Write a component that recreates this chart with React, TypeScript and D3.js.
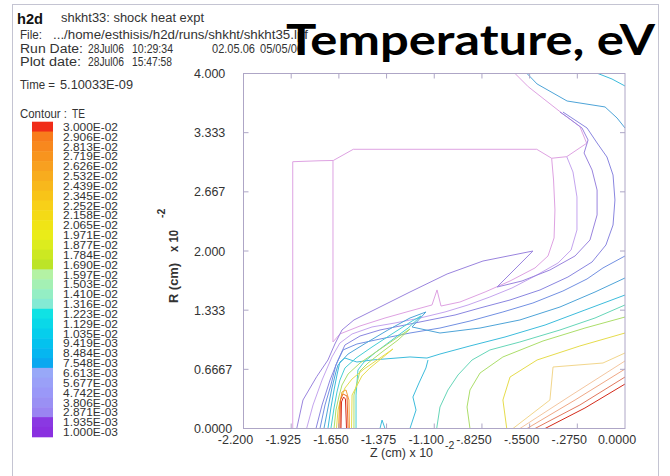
import React from 'react';
import * as d3 from 'd3';

type Pt = [number, number];

// contour levels (TE), lowest first, as printed on the colour key
const levelLabels = [
  '1.000E-03', '1.935E-03', '2.871E-03', '3.806E-03', '4.742E-03', '5.677E-03', '6.613E-03', '7.548E-03',
  '8.484E-03', '9.419E-03', '1.035E-02', '1.129E-02', '1.223E-02', '1.316E-02', '1.410E-02', '1.503E-02',
  '1.597E-02', '1.690E-02', '1.784E-02', '1.877E-02', '1.971E-02', '2.065E-02', '2.158E-02', '2.252E-02',
  '2.345E-02', '2.439E-02', '2.532E-02', '2.626E-02', '2.719E-02', '2.813E-02', '2.906E-02', '3.000E-02',
];

const xTicks = [-2.2, -1.925, -1.65, -1.375, -1.1, -0.825, -0.55, -0.275, 0];
const xTickLabels = ['-2.200', '-1.925', '-1.650', '-1.375', '-1.100', '-.8250', '-.5500', '-.2750', '0.0000'];
const yTicks = [0, 0.6667, 1.3333, 2, 2.6667, 3.3333, 4];
const yTickLabels = ['0.0000', '0.6667', '1.333', '2.000', '2.667', '3.333', '4.000'];

// contour lines, [Z, R] in units of 10^-2 cm
const pinkOuter: Pt[] = [[-1.916, 0], [-1.916, 3.006], [-1.759, 3.017], [-1.682, 3.02], [-1.567, 3.146], [-0.509, 3.146], [-0.423, 3.045], [-0.336, 3.063], [-0.221, 3.214], [-0.26, 3.401], [-0.375, 3.57], [-0.558, 3.851], [-0.634, 4.0]];
const pinkInner: Pt[] = [[-1.684, 3.02], [-1.684, 0.975], [-1.644, 1.065], [-1.528, 1.155], [-1.384, 1.245], [-1.24, 1.324], [-1.113, 1.392], [-1.084, 1.561], [-1.061, 1.38], [-0.952, 1.425], [-0.807, 1.538], [-0.663, 1.662], [-0.519, 1.809], [-0.444, 1.944], [-0.409, 2.147], [-0.404, 2.462], [-0.412, 2.8], [-0.423, 3.045]];
const lavender: Pt[] = [[-0.336, 3.063], [-0.3, 2.89], [-0.277, 2.609], [-0.277, 2.237], [-0.311, 2.011], [-0.386, 1.865], [-0.519, 1.718], [-0.652, 1.583], [-0.779, 1.482], [-0.905, 1.392], [-1.038, 1.313], [-1.182, 1.245], [-1.326, 1.189], [-1.459, 1.144], [-1.574, 1.065], [-1.644, 0.963], [-1.69, 0.806], [-1.747, 0.546], [-1.799, 0.265], [-1.836, 0]];
const purpleTongue: Pt[] = [[-1.893, 0], [-1.857, 0.321], [-1.778, 0.584], [-1.713, 0.772], [-1.673, 0.952], [-1.632, 1.11], [-1.563, 1.223], [-1.413, 1.369], [-1.24, 1.538], [-1.026, 1.741], [-0.819, 1.887], [-0.531, 2.0], [-0.738, 1.594], [-0.594, 1.662], [-0.433, 1.786], [-0.288, 1.944], [-0.202, 2.124], [-0.161, 2.406], [-0.161, 2.687], [-0.19, 2.913], [-0.236, 3.104], [-0.213, 3.251], [-0.248, 3.386], [-0.334, 3.51], [-0.375, 3.566]];
const violetArc: Pt[] = [[-0.358, 3.566], [-0.219, 3.386], [-0.161, 3.217], [-0.104, 3.059], [-0.069, 2.856], [-0.058, 2.575], [-0.069, 2.293], [-0.11, 2.068], [-0.19, 1.876], [-0.329, 1.707], [-0.49, 1.561], [-0.663, 1.448], [-0.836, 1.358], [-0.98, 1.279], [-1.125, 1.223], [-1.269, 1.166], [-1.413, 1.11], [-1.528, 1.042], [-1.615, 0.941], [-1.655, 0.772], [-1.701, 0.546], [-1.747, 0.265], [-1.782, 0]];
const blueA: Pt[] = [[-1.759, 0], [-1.73, 0.265], [-1.696, 0.49], [-1.667, 0.716], [-1.626, 0.885], [-1.546, 0.952], [-1.413, 1.008], [-1.24, 1.076], [-1.067, 1.132], [-0.894, 1.211], [-0.704, 1.313], [-0.531, 1.414], [-0.358, 1.549], [-0.219, 1.685], [-0.127, 1.809], [0, 1.944]];
const blueB: Pt[] = [[-1.736, 0], [-1.713, 0.231], [-1.69, 0.456], [-1.667, 0.637], [-1.655, 0.716], [-1.597, 0.839], [-1.494, 0.963], [-1.367, 1.11], [-1.24, 1.245], [-1.148, 1.313], [-1.228, 1.144], [-1.067, 1.076], [-0.836, 1.132], [-0.606, 1.223], [-0.375, 1.369], [-0.173, 1.538], [0, 1.696]];
const cyanA: Pt[] = [[-1.713, 0], [-1.696, 0.231], [-1.678, 0.434], [-1.661, 0.603], [-1.644, 0.749], [-1.615, 0.794], [-1.546, 0.749], [-1.459, 0.772], [-1.24, 0.806], [-1.142, 0.794], [-1.067, 0.839], [-0.894, 0.93], [-0.692, 1.031], [-0.461, 1.166], [-0.231, 1.335], [0, 1.504]];
const cyanB: Pt[] = [[-1.24, 0], [-1.205, 0.208], [-1.223, 0.355], [-1.188, 0.513], [-1.148, 0.682], [-1.136, 0.772]];
const cyanBump: Pt[] = [[-1.413, 0], [-1.401, 0.095], [-1.384, 0]];
const tealTop: Pt[] = [[-0.565, 4.0], [-0.507, 3.882], [-0.334, 3.69], [-0.115, 3.623], [-0.046, 3.499], [0, 3.386]];
const tealCorner: Pt[] = [[-0.156, 4.0], [-0.075, 3.938], [0, 3.859]];
const bandCyan: Pt[] = [[-1.696, 0], [-1.678, 0.231], [-1.661, 0.411], [-1.644, 0.546], [-1.615, 0.682], [-1.551, 0.794], [-1.459, 0.918], [-1.344, 1.065], [-1.228, 1.211], [-1.176, 1.268], [-1.251, 1.132], [-1.344, 0.997], [-1.436, 0.862], [-1.505, 0.749], [-1.54, 0.659], [-1.551, 0.377], [-1.551, 0]];
const greenA: Pt[] = [[-1.086, 0], [-1.067, 0.242], [-1.021, 0.434], [-0.963, 0.603], [-0.882, 0.772], [-0.779, 0.885], [-0.606, 0.975], [-0.375, 1.11], [-0.173, 1.245], [0, 1.392]];
const bandGreen: Pt[] = [[-1.678, 0], [-1.667, 0.208], [-1.649, 0.366], [-1.632, 0.49], [-1.597, 0.614], [-1.528, 0.738], [-1.436, 0.862], [-1.326, 1.008], [-1.24, 1.121], [-1.309, 0.997], [-1.401, 0.862], [-1.482, 0.738], [-1.528, 0.648], [-1.563, 0.377], [-1.563, 0]];
const limeA: Pt[] = [[-0.894, 0], [-0.911, 0.242], [-0.894, 0.434], [-0.836, 0.625], [-0.704, 0.806], [-0.473, 0.986], [-0.231, 1.132], [0, 1.256]];
const bandYellow: Pt[] = [[-1.664, 0], [-1.655, 0.208], [-1.638, 0.344], [-1.615, 0.456], [-1.574, 0.558], [-1.505, 0.67], [-1.413, 0.794], [-1.338, 0.896], [-1.401, 0.794], [-1.471, 0.682], [-1.517, 0.592], [-1.574, 0.377], [-1.577, 0]];
const yellowA: Pt[] = [[-0.682, 0], [-0.704, 0.321], [-0.663, 0.58], [-0.507, 0.772], [-0.26, 0.93], [0, 1.076]];
const paleOrange: Pt[] = [[-0.646, 0], [-0.433, 0.321], [-0.415, 0.693], [-0.127, 0.738], [0, 0.851]];
const peach: Pt[] = [[-0.606, 0], [-0.317, 0.366], [0, 0.761]];
const spikeOrange: Pt[] = [[-1.652, 0], [-1.646, 0.265], [-1.632, 0.411], [-1.609, 0.434], [-1.592, 0.321], [-1.589, 0]];
const salmon: Pt[] = [[-0.565, 0], [-0.288, 0.321], [0, 0.67]];
const spikeDeep: Pt[] = [[-1.644, 0], [-1.641, 0.321], [-1.626, 0.389], [-1.603, 0.366], [-1.597, 0]];
const orangeRed: Pt[] = [[-0.519, 0], [-0.26, 0.265], [0, 0.58]];
const red: Pt[] = [[-0.461, 0], [-0.231, 0.231], [0, 0.501]];
const spikeRed: Pt[] = [[-1.638, 0], [-1.635, 0.299], [-1.623, 0.355], [-1.612, 0.332], [-1.606, 0]];

// each contour with the index of its level in levelLabels
const contours: { level: number; points: Pt[] }[] = [
  { level: 0, points: pinkOuter },
  { level: 0, points: pinkInner },
  { level: 1, points: lavender },
  { level: 2, points: purpleTongue },
  { level: 3, points: violetArc },
  { level: 5, points: blueA },
  { level: 7, points: blueB },
  { level: 7, points: tealTop },
  { level: 9, points: tealCorner },
  { level: 9, points: cyanA },
  { level: 9, points: cyanB },
  { level: 9, points: cyanBump },
  { level: 11, points: bandCyan },
  { level: 12, points: greenA },
  { level: 15, points: bandGreen },
  { level: 15, points: limeA },
  { level: 18, points: bandYellow },
  { level: 18, points: yellowA },
  { level: 21, points: paleOrange },
  { level: 24, points: peach },
  { level: 25, points: spikeOrange },
  { level: 26, points: salmon },
  { level: 28, points: spikeDeep },
  { level: 29, points: orangeRed },
  { level: 31, points: red },
  { level: 31, points: spikeRed },
];

// key colours, lowest level first
const barColors = [
  '#8a30e0', '#8a38e2', '#9a84f2', '#9a90f4', '#9a98f8', '#9aa0f8', '#98a8f8', '#0aa8f0',
  '#06b6f0', '#04c2ee', '#06ceec', '#0ad8e8', '#10e2e4', '#84ead4', '#94eec4', '#a4f0b4',
  '#b4f2a4', '#bce428', '#cce822', '#dcec1e', '#eaec18', '#f0e416', '#f4da16', '#f8d018',
  '#f8c418', '#f8b81c', '#f8ac1e', '#f8a020', '#f8941e', '#f8881e', '#f87c1c', '#f02c18',
];

// contour line colours by level (lighter than the key)
const lineColors: Record<number, string> = {
  0: '#dea2e2', 1: '#c4a4ee', 2: '#9a84de', 3: '#8a86e0', 5: '#7290e2', 7: '#4ea4d8',
  9: '#3cbcdc', 11: '#46cdd4', 12: '#66d6b8', 15: '#acde6a', 18: '#e6dc4c', 21: '#f2d68c',
  24: '#f4c6a0', 25: '#f3a03a', 26: '#f0a886', 28: '#ee6a28', 29: '#e2785e', 31: '#d42a1a',
};

const font = "'Liberation Sans', Arial, Helvetica, sans-serif";
const ink = '#333';

const Txt: React.FC<{ x: number; y: number; w?: number; size?: number; bold?: boolean; children: string }> = ({ x, y, w, size = 12.5, bold, children }) => (
  <text x={x} y={y} fontFamily={font} fontSize={size} fontWeight={bold ? 'bold' : 'normal'} fill={bold ? '#111' : ink}
    textLength={w} lengthAdjust={w ? 'spacingAndGlyphs' : undefined}>{children}</text>
);

export default function App() {
  const left = 243.5, right = 625, top = 73.5, bottom = 428.5;
  const x = d3.scaleLinear().domain([-2.2, 0]).range([left, right]);
  const y = d3.scaleLinear().domain([0, 4]).range([bottom, top]);
  const line = d3.line<Pt>().x(d => x(d[0])).y(d => y(d[1]));

  const keyIdx = d3.range(levelLabels.length).reverse();
  const band = d3.scaleBand<number>().domain(keyIdx).range([121.7, 436.8]);
  const frame = '#aea6c6';

  return (
    <svg width={670} height={476} style={{ position: 'absolute', left: 0, top: 0, background: '#fff' }}>
      <rect x={12.5} y={4.5} width={646} height={490} fill="none" stroke="#c4c4d2" />

      {/* header */}
      <Txt x={17} y={24} size={15.5} bold w={26}>h2d</Txt>
      <Txt x={61} y={21.5} w={143}>shkht33: shock heat expt</Txt>
      <Txt x={20} y={39} w={22}>File:</Txt>
      <Txt x={53} y={39} w={255}>.../home/esthisis/h2d/runs/shkht/shkht35.lpf</Txt>
      <Txt x={20} y={53} w={63}>Run  Date:</Txt>
      <Txt x={88} y={53} w={36}>28Jul06</Txt>
      <Txt x={132} y={53} w={41}>10:29:34</Txt>
      <Txt x={212} y={53} w={43}>02.05.06</Txt>
      <Txt x={260} y={53} w={43}>05/05/06</Txt>
      <Txt x={20} y={65.5} w={61}>Plot date:</Txt>
      <Txt x={88} y={65.5} w={36}>28Jul06</Txt>
      <Txt x={132} y={65.5} w={40}>15:47:58</Txt>
      <Txt x={20} y={88.5} w={35}>Time =</Txt>
      <Txt x={60} y={88.5} w={73}>5.10033E-09</Txt>
      <Txt x={20} y={118} w={47}>Contour :</Txt>
      <Txt x={72} y={118} w={13}>TE</Txt>

      {/* colour key */}
      {keyIdx.map(i => (
        <rect key={i} x={32} y={band(i)!} width={21} height={band.bandwidth() + 0.5} fill={barColors[i]} />
      ))}
      {keyIdx.map(i => (
        <text key={i} x={63} y={band(i)! + band.bandwidth() / 2 + 4.2} fontFamily={font} fontSize={11.5} fill={ink}
          textLength={55} lengthAdjust="spacingAndGlyphs">{levelLabels[i]}</text>
      ))}

      {/* contours */}
      <g fill="none" strokeWidth={1} strokeLinejoin="round">
        {contours.map((c, i) => (
          <path key={i} d={line(c.points)!} stroke={lineColors[c.level]} />
        ))}
      </g>

      {/* frame and ticks */}
      <rect x={left} y={top} width={right - left} height={bottom - top} fill="none" stroke={frame} />
      <g stroke={frame}>
        {xTicks.slice(1, -1).map(t => (
          <g key={t}>
            <line x1={x(t)} x2={x(t)} y1={bottom} y2={bottom - 5} />
            <line x1={x(t)} x2={x(t)} y1={top} y2={top + 5} />
          </g>
        ))}
        {yTicks.slice(1, -1).map(t => (
          <g key={t}>
            <line x1={left} x2={left + 5} y1={y(t)} y2={y(t)} />
            <line x1={right} x2={right - 5} y1={y(t)} y2={y(t)} />
          </g>
        ))}
      </g>
      {xTicks.map((t, i) => (
        <text key={t} x={x(t) - 8} y={443.5} textAnchor="middle" fontFamily={font} fontSize={12.5} fill={ink}>{xTickLabels[i]}</text>
      ))}
      {yTicks.map((t, i) => (
        <text key={t} x={194} y={y(t) + 4.5} fontFamily={font} fontSize={12.5} fill={ink}>{yTickLabels[i]}</text>
      ))}

      {/* axis titles */}
      <Txt x={370} y={457} w={63}>Z (cm) x 10</Txt>
      <Txt x={445} y={449} size={10.5}>-2</Txt>
      <g transform="translate(178,303) rotate(-90)">
        <text x={0} y={0} fontFamily={font} fontSize={12.5} fontWeight="bold" fill={ink} textLength={40} lengthAdjust="spacingAndGlyphs">R (cm)</text>
        <text x={51} y={0} fontFamily={font} fontSize={12.5} fontWeight="bold" fill={ink} textLength={22} lengthAdjust="spacingAndGlyphs">x 10</text>
        <text x={85} y={-13} fontFamily={font} fontSize={10.5} fontWeight="bold" fill={ink}>-2</text>
      </g>

      {/* title */}
      <text x={286} y={55} fontFamily="Lato, 'DejaVu Sans', sans-serif" fontSize={42} fontWeight={700} fill="#000"
        textLength={369} lengthAdjust="spacingAndGlyphs">Temperature, eV</text>
    </svg>
  );
}
